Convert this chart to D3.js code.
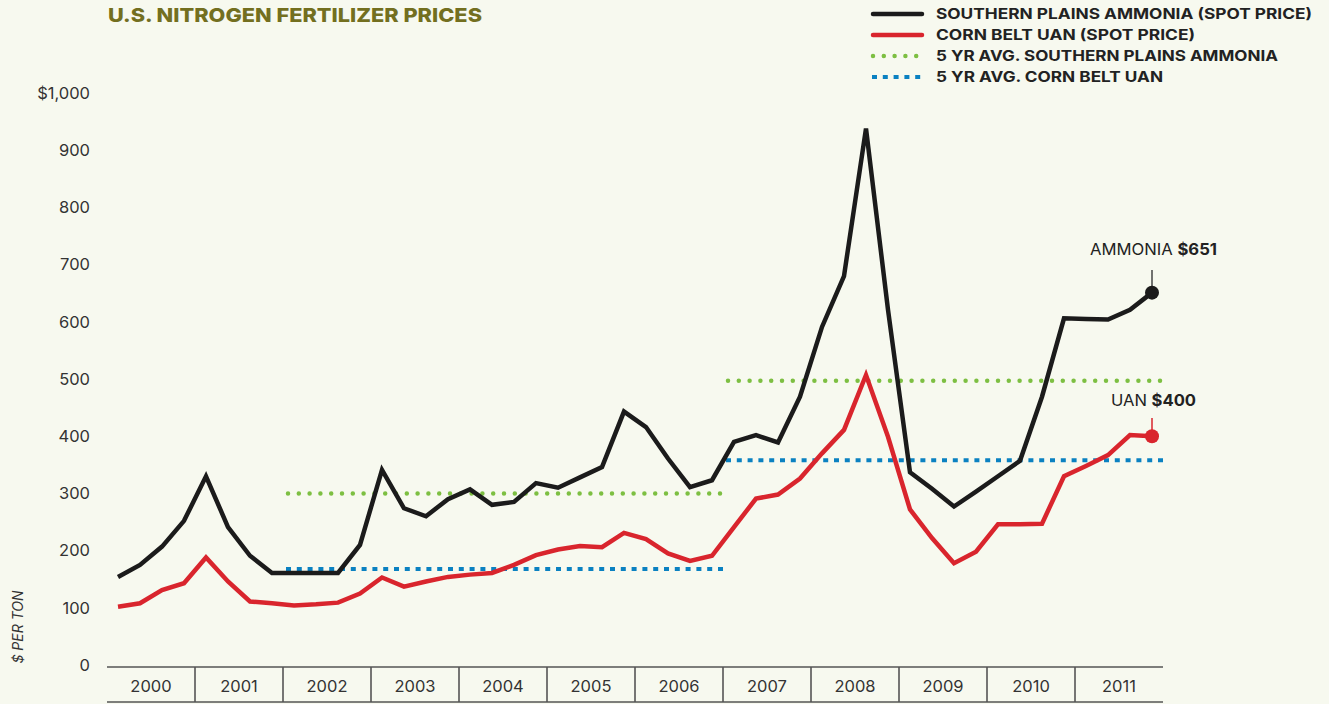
<!DOCTYPE html>
<html>
<head>
<meta charset="utf-8">
<script src="https://cdn.jsdelivr.net/npm/d3@7"></script>
<style>
  html, body { margin: 0; padding: 0; background: #f7f9ef; }
  svg { display: block; font-family: "Inter", "Noto Sans", sans-serif; }
</style>
</head>
<body>
<svg id="chart" width="1329" height="704"></svg>
<script>
// ---- Data (quarterly, 2000 Q1 .. 2011 Q4), $ per ton ----
const years = [2000, 2001, 2002, 2003, 2004, 2005, 2006, 2007, 2008, 2009, 2010, 2011];
const ammonia = [154, 175, 207, 252, 330, 241, 191, 161, 161, 161, 161, 210,
                 341, 274, 260, 290, 307, 280, 285, 318, 310, 328, 346, 443,
                 416, 361, 311, 323, 390, 402, 389, 469, 591, 680, 938, 621,
                 337, 308, 277, 303, 330, 357, 469, 606, 605, 604, 621, 651];
const uan = [102, 108, 131, 143, 188, 146, 111, 108, 104, 106, 109, 125,
             153, 137, 146, 154, 158, 161, 175, 192, 202, 208, 206, 231,
             220, 195, 182, 191, 241, 291, 298, 326, 370, 411, 507, 399,
             272, 222, 178, 198, 246, 246, 247, 330, 348, 367, 402, 400];
// 5-year averages: [startYear, endYear, value]
const avgAmmonia = [[2002, 2007, 300], [2007, 2012, 497]];
const avgUan = [[2002, 2007, 168], [2007, 2012, 358]];
const yTicks = [0, 100, 200, 300, 400, 500, 600, 700, 800, 900, 1000];
const legendItems = [
  { label: "SOUTHERN PLAINS AMMONIA (SPOT PRICE)", key: "amm" },
  { label: "CORN BELT UAN (SPOT PRICE)", key: "uan" },
  { label: "5 YR AVG. SOUTHERN PLAINS AMMONIA", key: "avgAmm" },
  { label: "5 YR AVG. CORN BELT UAN", key: "avgUan" }
];

const colors = { amm: "#1b1b1b", uan: "#d9252d", avgAmm: "#7dbf42", avgUan: "#0a81c1" };

const svg = d3.select("#chart");
const x = d3.scaleLinear().domain([2000, 2012]).range([107, 1163]);
const y = d3.scaleLinear().domain([0, 1000]).range([665, 93]);
const tq = i => 2000 + (i + 0.5) / 4;

// Title
svg.append("text")
  .attr("x", 108).attr("y", 22)
  .attr("fill", "#736f1f")
  .attr("font-size", 19).attr("font-weight", 800)
  .attr("textLength", 374).attr("lengthAdjust", "spacingAndGlyphs")
  .text("U.S. NITROGEN FERTILIZER PRICES");

// Legend
const lg = svg.append("g");
const legendY = [14, 35, 56, 77];
const legendW = [376, 259, 342, 227];
legendItems.forEach((d, i) => {
  const ly = legendY[i];
  const line = lg.append("line")
    .attr("x1", 873).attr("x2", 922).attr("y1", ly).attr("y2", ly)
    .attr("stroke", colors[d.key]);
  if (d.key === "amm" || d.key === "uan") {
    line.attr("stroke-width", 4.5).attr("stroke-linecap", "round");
  } else if (d.key === "avgAmm") {
    line.attr("stroke-width", 4.5).attr("stroke-linecap", "round").attr("stroke-dasharray", "0 10.8");
  } else {
    line.attr("x1", 872).attr("stroke-width", 4).attr("stroke-dasharray", "5 5.8");
  }
  lg.append("text")
    .attr("x", 936).attr("y", ly + 5.3)
    .attr("fill", "#222").attr("font-size", 14.5).attr("font-weight", 700)
    .attr("textLength", legendW[i]).attr("lengthAdjust", "spacingAndGlyphs")
    .text(d.label);
});

// Y axis labels
svg.append("g").selectAll("text").data(yTicks).join("text")
  .attr("x", 90).attr("y", d => y(d) + 5.8)
  .attr("text-anchor", "end")
  .attr("fill", "#333").attr("font-size", 16.5).attr("font-weight", 400)
  .text(d => d === 1000 ? "$1,000" : d3.format(",")(d));

svg.append("text")
  .attr("transform", "translate(23,627) rotate(-90)")
  .attr("text-anchor", "middle")
  .attr("fill", "#333").attr("font-size", 14).attr("font-style", "italic")
  .text("$ PER TON");

// X axis band
const axisTop = 667, axisBot = 702;
const xa = svg.append("g").attr("stroke", "#555").attr("stroke-width", 1.6);
xa.append("line").attr("x1", x(2000)).attr("x2", x(2012)).attr("y1", axisTop).attr("y2", axisTop);
xa.append("line").attr("x1", x(2000)).attr("x2", x(2012)).attr("y1", axisBot).attr("y2", axisBot);
xa.selectAll("line.div").data(years.slice(1)).join("line").attr("class", "div")
  .attr("x1", d => x(d)).attr("x2", d => x(d)).attr("y1", axisTop).attr("y2", axisBot);
svg.append("g").selectAll("text").data(years).join("text")
  .attr("x", d => x(d + 0.5)).attr("y", 692)
  .attr("text-anchor", "middle").attr("fill", "#333").attr("font-size", 16.5)
  .text(d => d);

// Average lines
svg.append("g").selectAll("line").data(avgAmmonia).join("line")
  .attr("x1", d => x(d[0]) + 5).attr("x2", d => x(d[1]) + 3)
  .attr("y1", d => y(d[2])).attr("y2", d => y(d[2]))
  .attr("stroke", colors.avgAmm).attr("stroke-width", 4.5)
  .attr("stroke-linecap", "round").attr("stroke-dasharray", "0 10.8");
svg.append("g").selectAll("line").data(avgUan).join("line")
  .attr("x1", d => x(d[0]) + 3).attr("x2", d => x(d[1]) + 5)
  .attr("y1", d => y(d[2])).attr("y2", d => y(d[2]))
  .attr("stroke", colors.avgUan).attr("stroke-width", 4)
  .attr("stroke-dasharray", "5 5.8");

// Series lines
const line = d3.line().x((d, i) => x(tq(i))).y(d => y(d));
svg.append("path").datum(uan).attr("d", line)
  .attr("fill", "none").attr("stroke", colors.uan).attr("stroke-width", 4.5)
  .attr("stroke-linejoin", "miter").attr("stroke-miterlimit", 6);
svg.append("path").datum(ammonia).attr("d", line)
  .attr("fill", "none").attr("stroke", colors.amm).attr("stroke-width", 4.5)
  .attr("stroke-linejoin", "miter").attr("stroke-miterlimit", 6);

// End annotations
const last = ammonia.length - 1;
const ex = x(tq(last));
svg.append("line").attr("x1", ex).attr("x2", ex).attr("y1", 270).attr("y2", y(ammonia[last]))
  .attr("stroke", "#444").attr("stroke-width", 1.5);
svg.append("circle").attr("cx", ex).attr("cy", y(ammonia[last])).attr("r", 7).attr("fill", colors.amm);
svg.append("line").attr("x1", ex).attr("x2", ex).attr("y1", 418).attr("y2", y(uan[last]))
  .attr("stroke", colors.uan).attr("stroke-width", 1.5);
svg.append("circle").attr("cx", ex).attr("cy", y(uan[last])).attr("r", 7).attr("fill", colors.uan);

const a1 = svg.append("text").attr("x", 1090).attr("y", 255).attr("fill", "#222").attr("font-size", 16)
  .attr("textLength", 127).attr("lengthAdjust", "spacingAndGlyphs");
a1.append("tspan").text("AMMONIA ");
a1.append("tspan").attr("font-weight", 700).text("$" + ammonia[last]);
const a2 = svg.append("text").attr("x", 1111).attr("y", 406).attr("fill", "#222").attr("font-size", 16)
  .attr("textLength", 85).attr("lengthAdjust", "spacingAndGlyphs");
a2.append("tspan").text("UAN ");
a2.append("tspan").attr("font-weight", 700).text("$" + uan[last]);
</script>
</body>
</html>
